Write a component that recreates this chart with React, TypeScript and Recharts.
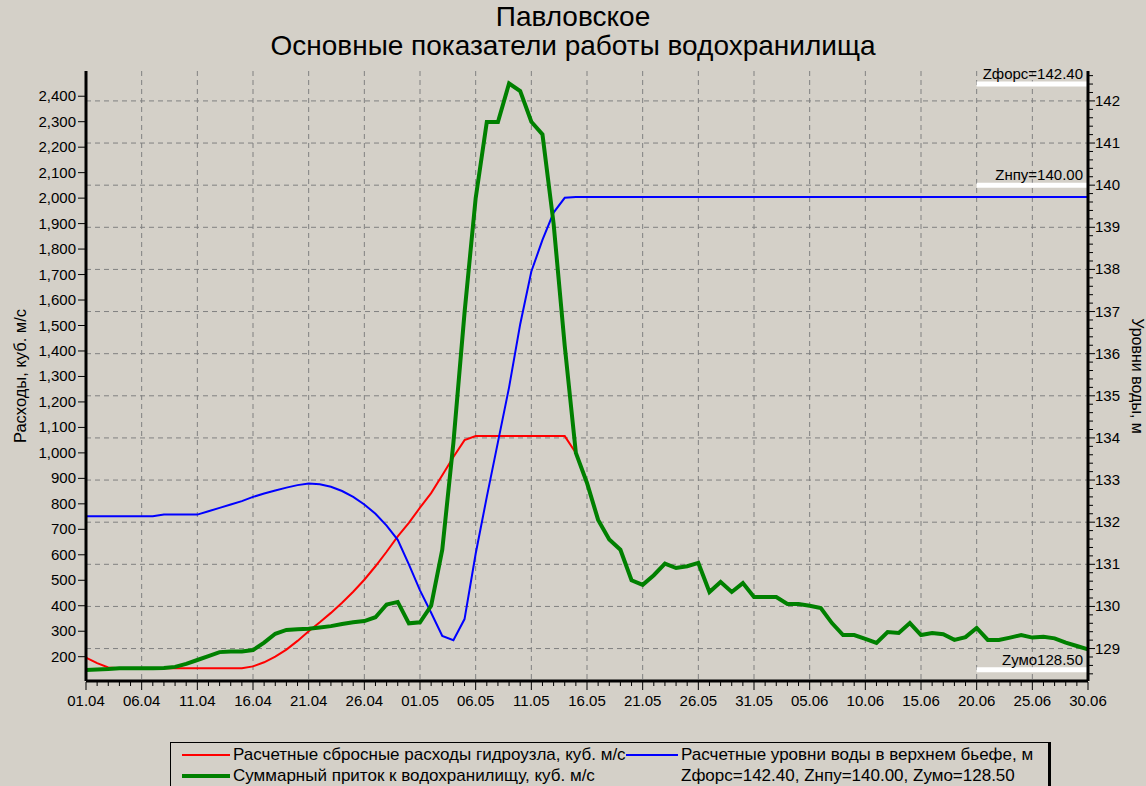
import React from "react";
import { LineChart, Line, XAxis, YAxis, CartesianGrid, ReferenceLine } from "recharts";

const FONT = "'Liberation Sans', Arial, sans-serif";
const BG = "#D4D0C8";

// days 01.04 .. 30.06
const MONTHS = [
  { m: "04", days: 30 },
  { m: "05", days: 31 },
  { m: "06", days: 30 },
];
const DATES: string[] = MONTHS.flatMap(({ m, days }) =>
  Array.from({ length: days }, (_, i) => `${String(i + 1).padStart(2, "0")}.${m}`)
);

// Расчетные сбросные расходы гидроузла, куб. м/с
const DISCHARGE = [
  196, 175, 158, 155, 155, 155, 155, 155, 155, 155,
  155, 155, 155, 155, 155, 162, 178, 200, 228, 262,
  300, 335, 372, 412, 455, 502, 555, 612, 672, 725,
  785, 842, 912, 984, 1050, 1066, 1066, 1066, 1066, 1066,
  1066, 1066, 1066, 1066, 1000, 882, 737, 660, 620, 500,
  482, 520, 565, 548, 555, 568, 454, 493, 454, 489,
  434, 434, 434, 407, 407, 400, 391, 332, 285, 285,
  270, 254, 297, 293, 332, 285, 293, 288, 266, 277,
  313, 266, 266, 275, 285, 275, 278, 272, 255, 242,
  229,
];

// Суммарный приток к водохранилищу, куб. м/с
const INFLOW = [
  148, 150, 152, 155, 155, 155, 155, 156, 160, 172,
  187, 202, 218, 220, 220, 226, 255, 290, 305, 308,
  310, 315, 320, 328, 335, 340, 355, 405, 415, 331,
  335, 400, 620, 1040, 1550, 2000, 2299, 2299, 2450, 2420,
  2300, 2250, 1900, 1420, 1000, 882, 737, 660, 620, 500,
  482, 520, 565, 548, 555, 568, 454, 493, 454, 489,
  434, 434, 434, 407, 407, 400, 391, 332, 285, 285,
  270, 254, 297, 293, 332, 285, 293, 288, 266, 277,
  313, 266, 266, 275, 285, 275, 278, 272, 255, 242,
  229,
];

// Расчетные уровни воды в верхнем бьефе, м
const LEVEL = [
  132.14, 132.14, 132.14, 132.14, 132.14, 132.14, 132.14, 132.18, 132.18, 132.18,
  132.18, 132.26, 132.34, 132.42, 132.5, 132.6, 132.68, 132.75, 132.82, 132.88,
  132.92, 132.9, 132.84, 132.74, 132.6, 132.42, 132.2, 131.92, 131.58, 131.0,
  130.38, 129.85, 129.3, 129.2, 129.7, 131.25, 132.6, 133.9, 135.2, 136.7,
  137.95, 138.7, 139.35, 139.7, 139.72, 139.72, 139.72, 139.72, 139.72, 139.72,
  139.72, 139.72, 139.72, 139.72, 139.72, 139.72, 139.72, 139.72, 139.72, 139.72,
  139.72, 139.72, 139.72, 139.72, 139.72, 139.72, 139.72, 139.72, 139.72, 139.72,
  139.72, 139.72, 139.72, 139.72, 139.72, 139.72, 139.72, 139.72, 139.72, 139.72,
  139.72, 139.72, 139.72, 139.72, 139.72, 139.72, 139.72, 139.72, 139.72, 139.72,
  139.72,
];

const LEFT_TICKS = [
  200, 300, 400, 500, 600, 700, 800, 900, 1000, 1100, 1200,
  1300, 1400, 1500, 1600, 1700, 1800, 1900, 2000, 2100, 2200, 2300, 2400,
];
const RIGHT_MAJOR = [129, 130, 131, 132, 133, 134, 135, 136, 137, 138, 139, 140, 141, 142];
const RIGHT_TICKS = Array.from({ length: 72 }, (_, i) => Math.round((128.4 + i * 0.2) * 10) / 10);
const X_TICKS = DATES.map((_, i) => i);
const X_MAJOR = X_TICKS.filter((d) => d % 5 === 0);

const MARKS = [
  { name: "Zфорс=142.40", level: 142.4 },
  { name: "Zнпу=140.00", level: 140.0 },
  { name: "Zумо128.50", level: 128.5 },
];

const data = DATES.map((date, i) => ({
  day: i,
  date,
  discharge: DISCHARGE[i],
  inflow: INFLOW[i],
  level: LEVEL[i],
}));

function XTick({ x, y, payload }: any) {
  const major = payload.value % 5 === 0;
  return (
    <g>
      <line x1={x} x2={x} y1={y + 1} y2={y + (major ? 9 : 5)} stroke="#000" />
      {major && (
        <text x={x} y={y + 25} textAnchor="middle" fontSize={15} fontFamily={FONT} fill="#000">
          {DATES[payload.value]}
        </text>
      )}
    </g>
  );
}

function LeftTick({ x, y, payload }: any) {
  return (
    <g>
      <line x1={x - 8} x2={x - 1} y1={y} y2={y} stroke="#000" />
      <text x={x - 10} y={y + 5} textAnchor="end" fontSize={15} fontFamily={FONT} fill="#000">
        {payload.value.toLocaleString("en-US")}
      </text>
    </g>
  );
}

function RightTick({ x, y, payload }: any) {
  const v = payload.value;
  const major = Math.abs(v - Math.round(v)) < 1e-6;
  return (
    <g>
      <line x1={x + 1} x2={x + (major ? 7 : 5)} y1={y} y2={y} stroke="#000" />
      {major && (
        <text x={x + 7} y={y + 5} textAnchor="start" fontSize={15} fontFamily={FONT} fill="#000">
          {Math.round(v)}
        </text>
      )}
    </g>
  );
}

function MarkLabel({ viewBox, text }: any) {
  if (!viewBox) return null;
  return (
    <text
      x={viewBox.x + viewBox.width - 5}
      y={viewBox.y - 5}
      textAnchor="end"
      fontSize={15}
      fontFamily={FONT}
      fill="#000"
    >
      {text}
    </text>
  );
}

function LegendBox() {
  const row: React.CSSProperties = {
    position: "absolute",
    display: "flex",
    alignItems: "center",
    whiteSpace: "nowrap",
    height: 20,
  };
  const sample = (color: string, w: number, len: number): React.CSSProperties => ({
    width: len,
    height: w,
    background: color,
    marginRight: 3,
  });
  return (
    <div
      style={{
        position: "absolute",
        left: 170,
        top: 742,
        width: 877,
        height: 50,
        borderTop: "1px solid #000",
        borderLeft: "1px solid #000",
        borderRight: "3px solid #000",
        fontFamily: FONT,
        fontSize: 17,
        color: "#000",
      }}
    >
      <div style={{ ...row, left: 11, top: 2 }}>
        <div style={sample("#FF0000", 2, 48)} />
        Расчетные сбросные расходы гидроузла, куб. м/с
      </div>
      <div style={{ ...row, left: 455, top: 2 }}>
        <div style={sample("#0000FF", 2, 52)} />
        Расчетные уровни воды в верхнем бьефе, м
      </div>
      <div style={{ ...row, left: 11, top: 23 }}>
        <div style={sample("#008000", 4, 48)} />
        Суммарный приток к водохранилищу, куб. м/с
      </div>
      <div style={{ ...row, left: 510, top: 23 }}>Zфорс=142.40, Zнпу=140.00, Zумо=128.50</div>
    </div>
  );
}

export default function App() {
  return (
    <div
      style={{
        position: "absolute",
        left: 0,
        top: 0,
        width: 1146,
        height: 786,
        overflow: "hidden",
        background: BG,
        fontFamily: FONT,
      }}
    >
      <div
        style={{
          position: "absolute",
          top: 2,
          left: 0,
          width: 1146,
          textAlign: "center",
          fontSize: 28,
          lineHeight: "29px",
          color: "#000",
        }}
      >
        Павловское
        <br />
        Основные показатели работы водохранилища
      </div>

      <div
        style={{
          position: "absolute",
          left: 20,
          top: 376,
          transform: "translate(-50%, -50%) rotate(-90deg)",
          whiteSpace: "nowrap",
          fontSize: 16.5,
        }}
      >
        Расходы, куб. м/с
      </div>
      <div
        style={{
          position: "absolute",
          left: 1137,
          top: 376,
          transform: "translate(-50%, -50%) rotate(90deg)",
          whiteSpace: "nowrap",
          fontSize: 16,
        }}
      >
        Уровни воды, м
      </div>

      <div style={{ position: "absolute", left: 0, top: 0 }}>
        <LineChart width={1146} height={786} data={data} margin={{ top: 71, right: 0, bottom: 0, left: 0 }}>
          <CartesianGrid
            yAxisId="right"
            stroke="#808080"
            strokeDasharray="5 4"
            horizontalValues={RIGHT_MAJOR}
            verticalValues={X_MAJOR}
          />
          <XAxis
            dataKey="day"
            type="number"
            domain={[0, 90]}
            ticks={X_TICKS}
            interval={0}
            height={105}
            tickSize={0}
            tickMargin={0}
            tickLine={false}
            axisLine={{ stroke: "#000", strokeWidth: 3 }}
            tick={(p: any) => <XTick {...p} />}
          />
          <XAxis
            xAxisId="top"
            orientation="top"
            dataKey="day"
            type="number"
            domain={[0, 90]}
            height={0}
            tick={false}
            tickLine={false}
            axisLine={{ stroke: "#000", strokeWidth: 1 }}
          />
          <YAxis
            yAxisId="left"
            type="number"
            domain={[104.6, 2499]}
            allowDataOverflow
            ticks={LEFT_TICKS}
            interval={0}
            width={86}
            tickSize={0}
            tickMargin={0}
            tickLine={false}
            axisLine={{ stroke: "#000", strokeWidth: 3 }}
            tick={(p: any) => <LeftTick {...p} />}
          />
          <YAxis
            yAxisId="right"
            orientation="right"
            type="number"
            domain={[128.23, 142.71]}
            allowDataOverflow
            ticks={RIGHT_TICKS}
            interval={0}
            width={58}
            tickSize={0}
            tickMargin={0}
            tickLine={false}
            axisLine={{ stroke: "#000", strokeWidth: 3 }}
            tick={(p: any) => <RightTick {...p} />}
          />
          {MARKS.map((m) => (
            <ReferenceLine
              key={m.name}
              yAxisId="right"
              segment={[
                { x: 80, y: m.level },
                { x: 90, y: m.level },
              ]}
              stroke="#FFFFFF"
              strokeWidth={5}
              ifOverflow="visible"
              label={<MarkLabel text={m.name} />}
            />
          ))}
          <Line
            yAxisId="left"
            type="linear"
            dataKey="discharge"
            stroke="#FF0000"
            strokeWidth={2}
            dot={false}
            isAnimationActive={false}
          />
          <Line
            yAxisId="right"
            type="linear"
            dataKey="level"
            stroke="#0000FF"
            strokeWidth={2}
            dot={false}
            isAnimationActive={false}
          />
          <Line
            yAxisId="left"
            type="linear"
            dataKey="inflow"
            stroke="#008000"
            strokeWidth={4}
            dot={false}
            isAnimationActive={false}
          />
        </LineChart>
      </div>

      <LegendBox />
    </div>
  );
}
